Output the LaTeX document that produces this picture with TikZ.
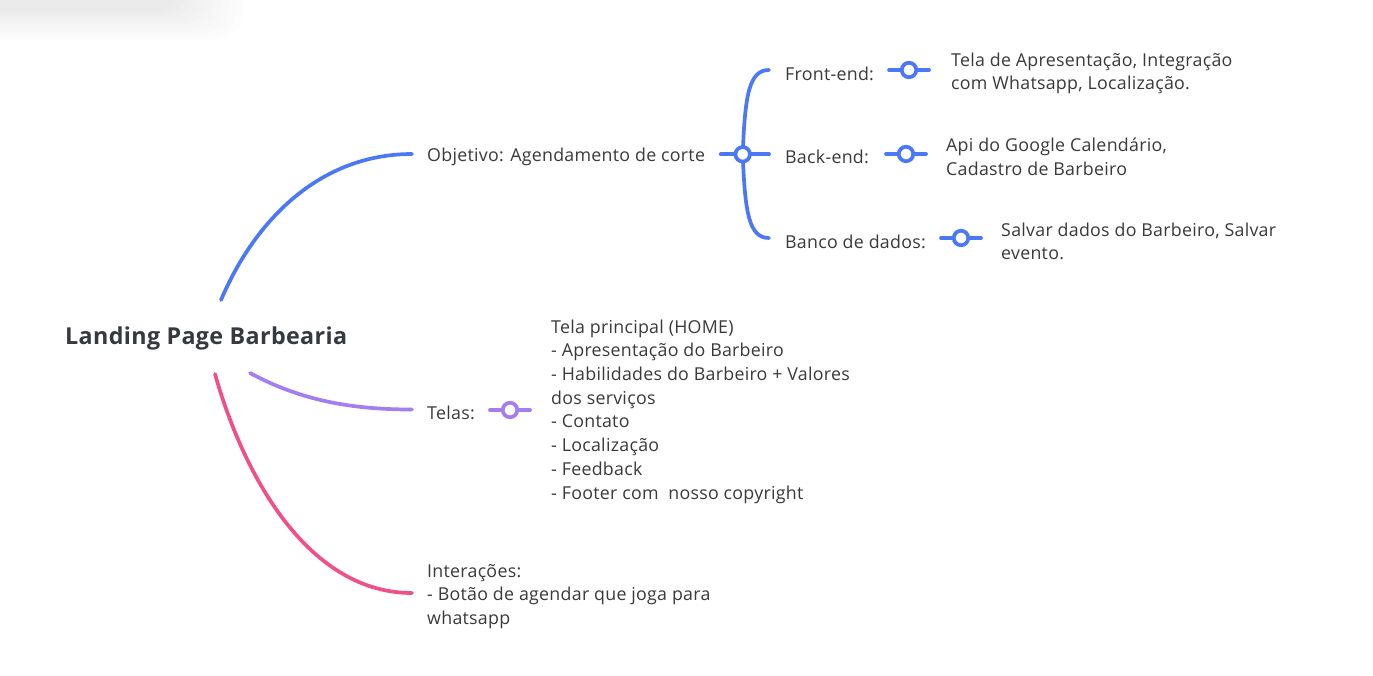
\documentclass[tikz,border=0pt]{standalone}
\usepackage{fontspec}
\setmainfont[LetterSpace=1.5]{Open Sans}
\definecolor{bluec}{HTML}{4A78F6}
\definecolor{purplec}{HTML}{A47DF0}
\definecolor{pinkc}{HTML}{F0508A}
\definecolor{textc}{HTML}{3A3A3A}
\definecolor{titlec}{HTML}{363A40}
\begin{document}
\begin{tikzpicture}[x=1pt,y=-1pt,
  txt/.style={anchor=west,inner sep=0pt,align=left,text=textc,yshift=-2.5pt,font=\fontsize{17.8}{23.7}\selectfont},
  ttl/.style={anchor=west,inner sep=0pt,text=titlec,font=\fontsize{23.3}{28}\selectfont\bfseries},
  br/.style={line width=3.7pt,line cap=round},
  knob/.style={circle,fill=white,line width=3.7pt,minimum size=14.5pt,inner sep=0pt},
]
\useasboundingbox (0,0) rectangle (1373,675);
\fill[white] (0,0) rectangle (1373,675);
% soft shadow top-left
\foreach \i in {0,...,9}
  \fill[black,opacity=0.009,rounded corners=25pt] (-60,-60) rectangle (180+\i*7, 12+\i*3);

% texts
\node[ttl] (root) at (65,338) {Landing Page Barbearia};
\node[txt] (obj) at (427,154) {Objetivo: Agendamento de corte};
\node[txt] (front) at (785,71) {Front-end:};
\node[txt] (back) at (785,154) {Back-end:};
\node[txt] (banco) at (785,239) {Banco de dados:};
\node[txt] (frontd) at (951,71) {Tela de Apresentação, Integração\\com Whatsapp, Localização.};
\node[txt] (backd) at (946,154) {Api do Google Calendário,\\Cadastro de Barbeiro};
\node[txt] (bancod) at (1001,239) {Salvar dados do Barbeiro, Salvar\\evento.};
\node[txt] (telas) at (427,410) {Telas:};
\node[txt] (telasd) at (551,409) {Tela principal (HOME)\\- Apresentação do Barbeiro\\- Habilidades do Barbeiro + Valores\\dos serviços\\- Contato\\- Localização\\- Feedback\\- Footer com~~nosso copyright};
\node[txt] (inter) at (427,594) {Interações:\\- Botão de agendar que joga para\\whatsapp};

% main branches
\coordinate (rb) at (221,300);
\coordinate (rp) at (250,373);
\coordinate (rk) at (215,374);
\coordinate (eo) at (412,154);
\coordinate (et) at (412,409.5);
\coordinate (ei) at (412,593);
\draw[br,bluec] (rb) .. controls (255,220) and (320,154) .. (eo);
\draw[br,purplec] (rp) .. controls (300,400) and (350,409.5) .. (et);
\draw[br,pinkc] (rk) .. controls (245,480) and (310,593) .. (ei);

% objetivo hub
\coordinate (hub) at (742.7,154.3);
\coordinate (ef) at (769,70);
\coordinate (eb) at (769,154.3);
\coordinate (ed) at (769,238);
\draw[br,bluec] (hub) -- ++(-22,0);
\draw[br,bluec] (hub) -- (eb);
\draw[br,bluec] (hub) .. controls (745,95) and (749,70) .. (ef);
\draw[br,bluec] (hub) .. controls (745,213) and (749,238) .. (ed);
\node[knob,draw=bluec] (khub) at (hub) {};

% detail knobs
\node[knob,draw=bluec] (kf) at (909,70) {};
\draw[br,bluec] ([xshift=-20pt]kf.center) -- (kf.west) (kf.east) -- ([xshift=20pt]kf.center);
\node[knob,draw=bluec] (kb) at (906,154) {};
\draw[br,bluec] ([xshift=-20pt]kb.center) -- (kb.west) (kb.east) -- ([xshift=20pt]kb.center);
\node[knob,draw=bluec] (kd) at (961,238) {};
\draw[br,bluec] ([xshift=-20pt]kd.center) -- (kd.west) (kd.east) -- ([xshift=20pt]kd.center);
\node[knob,draw=purplec] (kt) at (510,410) {};
\draw[br,purplec] ([xshift=-20pt]kt.center) -- (kt.west) (kt.east) -- ([xshift=20pt]kt.center);
\end{tikzpicture}
\end{document}
